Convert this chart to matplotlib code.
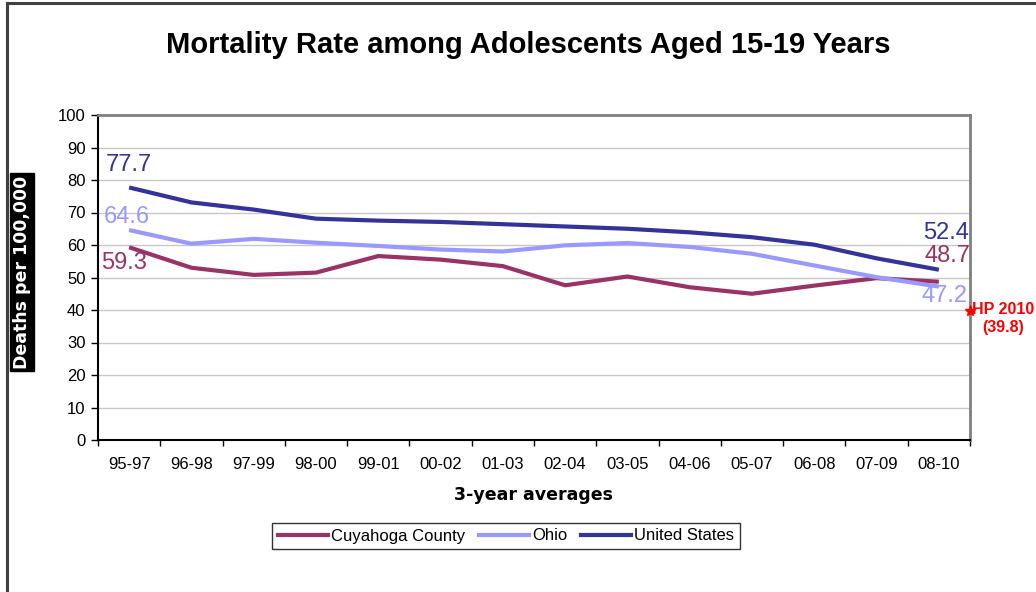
import matplotlib
matplotlib.use("Agg")
import matplotlib.pyplot as plt
from matplotlib.lines import Line2D

plt.rcParams['font.family'] = ['Liberation Sans', 'DejaVu Sans']

categories = ["95-97", "96-98", "97-99", "98-00", "99-01", "00-02", "01-03",
              "02-04", "03-05", "04-06", "05-07", "06-08", "07-09", "08-10"]
cuyahoga = [59.3, 53.0, 50.8, 51.5, 56.6, 55.5, 53.5, 47.6, 50.3, 47.0, 45.0, 47.5, 49.8, 48.7]
ohio = [64.6, 60.4, 61.9, 60.7, 59.7, 58.6, 58.0, 59.9, 60.6, 59.4, 57.3, 53.7, 50.1, 47.2]
united_states = [77.7, 73.1, 70.9, 68.1, 67.5, 67.1, 66.4, 65.7, 65.0, 63.9, 62.4, 60.1, 55.9, 52.4]
hp2010_target = 39.8
yticks = list(range(0, 101, 10))

c_cuy = "#993366"
c_ohio = "#9999FF"
c_us = "#333399"

fig = plt.figure(figsize=(10.36, 5.92), dpi=100)
ax = fig.add_axes([98/1036, 1-440/592, (970-98)/1036, (440-115)/592])

x = list(range(len(categories)))
ax.plot(x, cuyahoga, color=c_cuy, lw=3, solid_capstyle='butt', zorder=3)
ax.plot(x, ohio, color=c_ohio, lw=3, solid_capstyle='butt', zorder=3)
ax.plot(x, united_states, color=c_us, lw=3, solid_capstyle='butt', zorder=4)

ax.set_xlim(-0.5, len(categories) - 0.5)
ax.set_ylim(0, 100)
ax.set_yticks(yticks)
ax.set_xticks(x)
ax.set_xticklabels(categories, fontsize=12)
ax.set_xticks([i - 0.5 for i in range(len(categories) + 1)], minor=True)
ax.tick_params(axis='x', which='major', length=0, pad=12)
ax.tick_params(axis='x', which='minor', length=4, width=1, direction='out', color='black')
ax.tick_params(axis='y', length=5, width=1, direction='out', labelsize=12, pad=4)
ax.grid(axis='y', color='#C8C8C8', lw=1)
ax.set_axisbelow(True)
for s in ['left', 'bottom']:
    ax.spines[s].set_color('black')
    ax.spines[s].set_linewidth(1.5)
for s in ['top', 'right']:
    ax.spines[s].set_color('#808080')
    ax.spines[s].set_linewidth(2)

ax.set_xlabel("3-year averages", fontsize=12.5, fontweight='bold', labelpad=10,
              family='DejaVu Sans')

# data labels
def lab(xi, val, color, dx, dy, ha='center'):
    ax.annotate(f"{val:.1f}", (xi, val), xytext=(dx, dy), textcoords='offset pixels',
                ha=ha, va='center', fontsize=17, color=color, zorder=5)

lab(0, united_states[0], c_us, 0, 22)
lab(0, ohio[0], c_ohio, -2, 13)
lab(0, cuyahoga[0], c_cuy, -5, -16)
n = len(categories) - 1
lab(n, united_states[n], c_us, 7, 37)
lab(n, cuyahoga[n], c_cuy, 9, 26)
lab(n, ohio[n], c_ohio, 6, -9)

# HP 2010 target marker
ax.plot([len(categories) - 0.5], [hp2010_target], marker='*', color='red', ms=8,
        clip_on=False, zorder=6)
ax.annotate(f"HP 2010\n({hp2010_target})", (len(categories) - 0.5, hp2010_target),
            xytext=(2, -8), textcoords='offset pixels', ha='left', va='center',
            multialignment='center', color='red', fontsize=11.5, fontweight='bold',
            annotation_clip=False)

# title
fig.text(528/1036, 1-45/592, "Mortality Rate among Adolescents Aged 15-19 Years",
         ha='center', va='center', fontsize=21, fontweight='bold')

# y label
fig.text(22/1036, 1-272/592, "Deaths per 100,000", rotation=90, ha='center', va='center',
         fontsize=12.5, fontweight='bold', color='white', family='DejaVu Sans',
         bbox=dict(boxstyle='square,pad=0.15', fc='black', ec='black'))

# legend
handles = [Line2D([], [], color=c_cuy, lw=3),
           Line2D([], [], color=c_ohio, lw=3),
           Line2D([], [], color=c_us, lw=3)]
leg = fig.legend(handles, ["Cuyahoga County", "Ohio", "United States"],
                 loc='center', bbox_to_anchor=(506/1036, 1-536/592), ncol=3,
                 fontsize=12, frameon=True, fancybox=False, handlelength=3.0,
                 handletextpad=0.2, columnspacing=0.8, borderpad=0.35)
leg.get_frame().set_edgecolor('black')
leg.get_frame().set_linewidth(1)

# figure border
fig.add_artist(Line2D([7/1036, 7/1036], [0, 1-3/592], color='#404040', lw=2.2,
                      transform=fig.transFigure))
fig.add_artist(Line2D([7/1036, 1], [1-3/592, 1-3/592], color='#404040', lw=2.2,
                      transform=fig.transFigure))

fig.savefig("out.png", dpi=100)
